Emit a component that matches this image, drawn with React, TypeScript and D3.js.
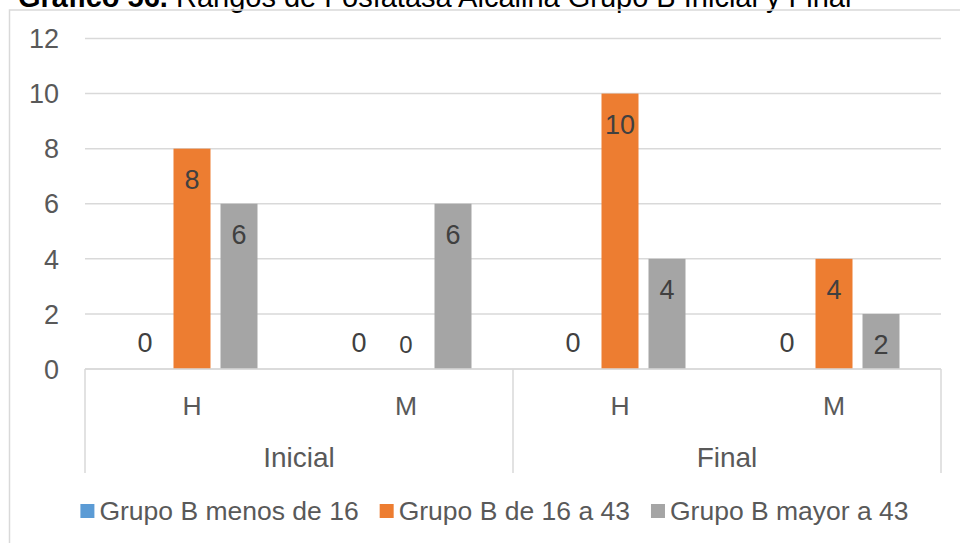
import React from "react";
import * as d3 from "d3";

const titleBold = "Gráfico 56.";
const titleRest = " Rangos de Fosfatasa Alcalina Grupo B Inicial y Final";
const categories = ["H", "M", "H", "M"];
const groups = ["Inicial", "Final"];
const seriesNames = ["Grupo B menos de 16", "Grupo B de 16 a 43", "Grupo B mayor a 43"];
const menos16 = [0, 0, 0, 0];
const de16a43 = [8, 0, 10, 4];
const mayor43 = [6, 6, 4, 2];
const yTicks = [0, 2, 4, 6, 8, 10, 12];

const seriesValues = [menos16, de16a43, mayor43];
const colors = ["#5B9BD5", "#ED7D31", "#A5A5A5"];
const FONT = "'Liberation Sans', Arial, sans-serif";

function measure(text: string, size: number, weight = "normal") {
  const c = document.createElement("canvas").getContext("2d");
  if (!c) return text.length * size * 0.5;
  c.font = `${weight} ${size}px 'Liberation Sans', Arial, sans-serif`;
  return c.measureText(text).width;
}

export default function App() {
  const W = 960, H = 543;
  const left = 85, right = 941, base = 369, top = 38.5;
  const x = d3.scaleBand<number>().domain(d3.range(categories.length)).range([left, right]);
  const step = x.bandwidth();
  const inner = d3
    .scaleBand<number>()
    .domain(d3.range(seriesNames.length))
    .range([0, step])
    .paddingInner(10 / 47)
    .paddingOuter(0.883);
  const y = d3.scaleLinear().domain([0, 12]).range([base, top]);
  const grid = "#D9D9D9";

  // legend layout
  const legFont = 26.5;
  const widths = seriesNames.map((s) => measure(s, legFont));
  const itemW = widths.map((w) => 14 + 5 + w);
  const gapItems = 21;
  const total = d3.sum(itemW) + gapItems * (itemW.length - 1);
  let lx = 494.5 - total / 2;
  const legendPos = itemW.map((w) => {
    const p = lx;
    lx += w + gapItems;
    return p;
  });

  const groupSpan = categories.length / groups.length;

  return (
    <svg
      width={W}
      height={H}
      style={{ position: "absolute", left: 0, top: 0, background: "#fff" }}
      fontFamily={FONT}
    >
      <rect x={0} y={0} width={W} height={H} fill="#fff" />
      <text x={18} y={6.5} fontSize={29} fill="#000">
        <tspan fontWeight="bold">{titleBold}</tspan>
        <tspan>{titleRest}</tspan>
      </text>
      <rect x={9.5} y={10} width={1100} height={700} fill="none" stroke={grid} strokeWidth={1.5} />

      {/* gridlines */}
      {yTicks.map((t) => (
        <line key={t} x1={left} x2={right} y1={y(t)} y2={y(t)} stroke={grid} strokeWidth={1.5} />
      ))}
      {/* y tick labels */}
      {yTicks.map((t) => (
        <text key={"yl" + t} x={59} y={y(t) + 9.7} fontSize={27} fill="#595959" textAnchor="end">
          {t}
        </text>
      ))}

      {/* bars */}
      {seriesValues.map((vals, si) =>
        vals.map((v, ci) => (
          <rect
            key={`b${si}-${ci}`}
            x={(x(ci) as number) + (inner(si) as number)}
            y={y(v)}
            width={inner.bandwidth()}
            height={base - y(v)}
            fill={colors[si]}
          />
        ))
      )}

      {/* category axis */}
      <line x1={left} x2={right} y1={base} y2={base} stroke={grid} strokeWidth={1.5} />
      {d3.range(groups.length + 1).map((g) => {
        const gx = left + g * groupSpan * step;
        return <line key={"v" + g} x1={gx} x2={gx} y1={base} y2={473} stroke={grid} strokeWidth={1.5} />;
      })}
      {categories.map((c, ci) => (
        <text
          key={"c" + ci}
          x={(x(ci) as number) + step / 2}
          y={415}
          fontSize={26.5}
          fill="#595959"
          textAnchor="middle"
        >
          {c}
        </text>
      ))}
      {groups.map((g, gi) => (
        <text
          key={"g" + gi}
          x={left + (gi + 0.5) * groupSpan * step}
          y={466.7}
          fontSize={28}
          fill="#595959"
          textAnchor="middle"
        >
          {g}
        </text>
      ))}

      {/* data labels */}
      {seriesValues.map((vals, si) =>
        vals.map((v, ci) => {
          const cx = (x(ci) as number) + (inner(si) as number) + inner.bandwidth() / 2;
          const small = v === 0 && si === 1;
          const ly = v === 0 ? base - (small ? 16.5 : 17.5) : y(v) + 40;
          return (
            <text
              key={`l${si}-${ci}`}
              x={cx}
              y={ly}
              fontSize={small ? 24 : 27}
              fill="#404040"
              textAnchor="middle"
            >
              {v}
            </text>
          );
        })
      )}

      {/* legend */}
      {seriesNames.map((s, i) => (
        <g key={"leg" + i}>
          <rect x={legendPos[i]} y={504} width={14} height={14} fill={colors[i]} />
          <text x={legendPos[i] + 19} y={520} fontSize={legFont} fill="#595959">
            {s}
          </text>
        </g>
      ))}
    </svg>
  );
}
